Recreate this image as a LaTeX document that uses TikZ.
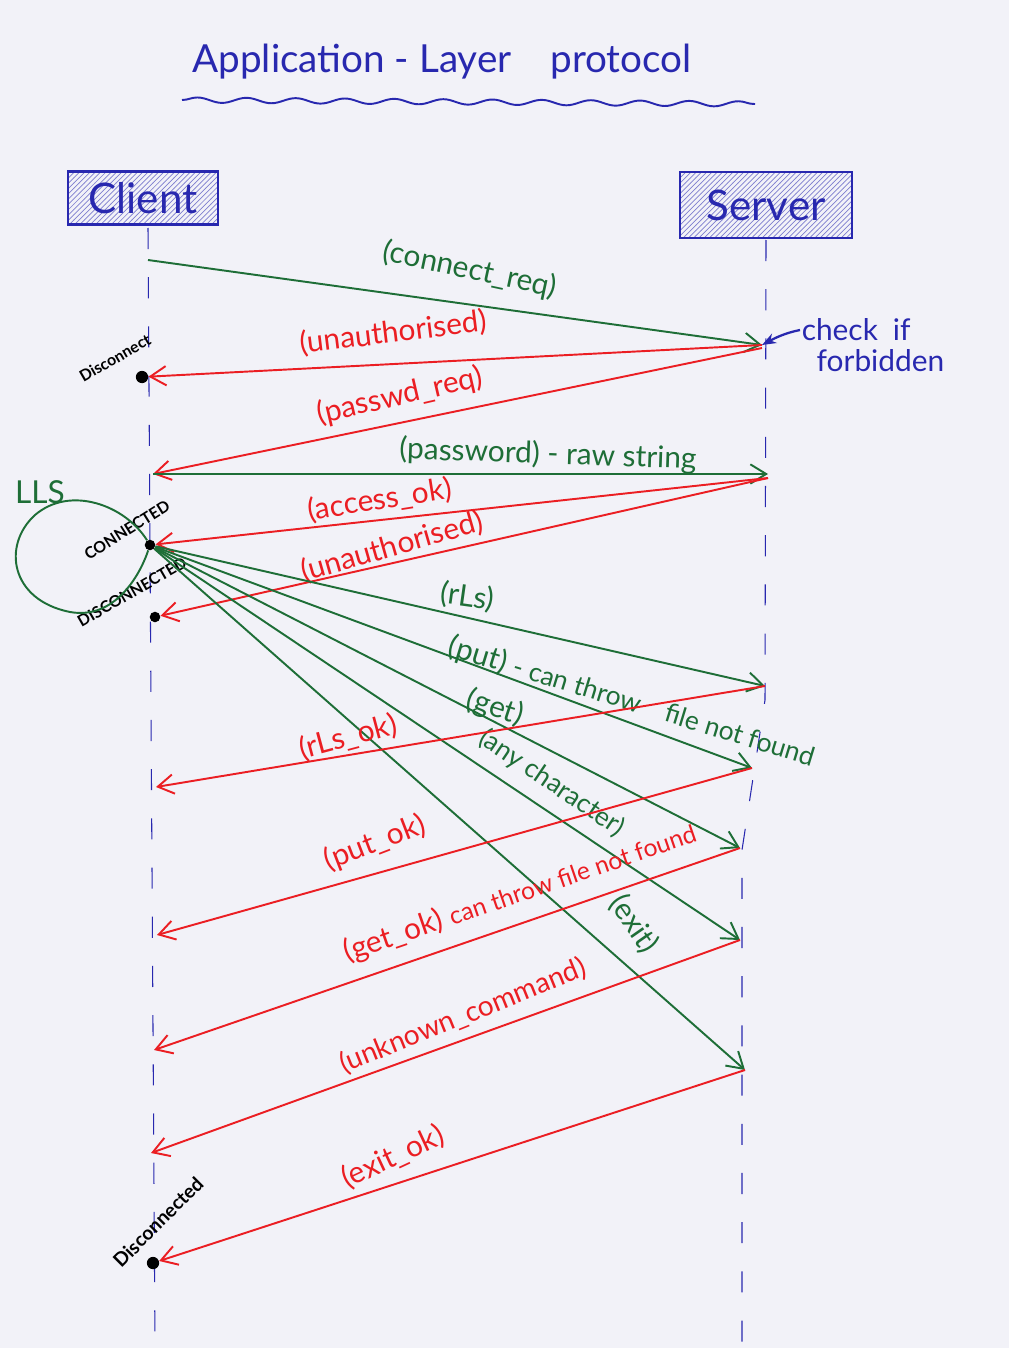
\documentclass[tikz,border=0pt]{standalone}
\usepackage{fontspec}
\setmainfont{Lato}
\usetikzlibrary{arrows.meta,patterns,decorations.pathmorphing}
\definecolor{pen}{RGB}{40,40,175}
\definecolor{grn}{RGB}{30,110,55}
\definecolor{rd}{RGB}{235,30,35}
\definecolor{paper}{RGB}{242,242,248}
\begin{document}
\begin{tikzpicture}[x=0.02cm,y=-0.02cm,
  msg/.style={line width=1.1pt,-{Straight Barb[length=9pt,width=11pt]}},
  gmsg/.style={msg,grn},
  rmsg/.style={msg,rd},
  glbl/.style={text=grn,font=\fontsize{17}{19}\selectfont,inner sep=1pt},
  rlbl/.style={text=rd,font=\fontsize{17}{19}\selectfont,inner sep=1pt},
  state/.style={font=\fontsize{9}{10}\selectfont\bfseries,inner sep=1pt},
  dot/.style={circle,fill=black,inner sep=0pt,minimum size=7pt},
  lifeline/.style={pen,line width=0.6pt,dash pattern=on 12pt off 16pt},
  actor/.style={draw=pen,line width=1.2pt,pattern=north east lines,pattern color=pen!60,inner sep=0pt}]
\fill[paper] (0,0) rectangle (1009,1348);
\useasboundingbox (0,0) rectangle (1009,1348);
% title
\node[text=pen,font=\fontsize{22}{24}\selectfont] (title) at (442,62) {Application - Layer\quad protocol};
\draw[pen,line width=1.1pt,decorate,decoration={snake,amplitude=1.5pt,segment length=28pt}] (182,100) -- (755,104);
% actors
\node[actor,minimum width=3cm,minimum height=1.06cm] (client) at (143,198) {};
\node[text=pen,font=\fontsize{24}{26}\selectfont] (clientt) at (client) {Client};
\node[actor,minimum width=3.44cm,minimum height=1.32cm] (server) at (766,205) {};
\node[text=pen,font=\fontsize{24}{26}\selectfont] (servert) at (server) {Server};
% lifelines
\coordinate (ctop) at (148,228);
\coordinate (cbot) at (155,1348);
\coordinate (stop) at (766,240);
\coordinate (smid) at (765,700);
\coordinate (smid2) at (742,850);
\coordinate (sbot) at (742,1348);
\draw[lifeline] (ctop) -- (cbot);
\draw[lifeline] (stop) -- (smid) -- (smid2) -- (sbot);
% points
\coordinate (c260) at (148,260);
\node[dot] (dis1) at (142,377) {};
\coordinate (c474) at (153,474);
\node[dot,minimum size=6pt] (conn) at (150,545) {};
\node[dot,minimum size=6pt] (dis2) at (155,617) {};
\coordinate (c787) at (156,787);
\coordinate (c935) at (157,935);
\coordinate (c1050) at (154,1050);
\coordinate (c1153) at (151,1153);
\node[dot] (dis3) at (153,1263) {};
\coordinate (s345) at (762,345);
\coordinate (s348) at (762,348);
\coordinate (s474) at (768,474);
\coordinate (s478) at (768,478);
\coordinate (s686) at (765,686);
\coordinate (s768) at (752,768);
\coordinate (s848) at (740,848);
\coordinate (s940) at (740,940);
\coordinate (s1070) at (745,1070);
% state labels
\node[state,rotate=30] (l1) at (115,358) {Disconnect};
\node[state,rotate=32] (l2) at (127,530) {CONNECTED};
\node[state,rotate=30] (l3) at (132,592) {DISCONNECTED};
\node[state,rotate=45,font=\fontsize{11}{12}\selectfont\bfseries] (l4) at (158,1222) {Disconnected};
% LLS loop
\draw[grn,line width=1.1pt] (conn) .. controls (125,505) and (70,485) .. (35,515) .. controls (2,545) and (10,600) .. (70,612) .. controls (115,620) and (140,575) .. (conn);
\node[text=grn,font=\fontsize{18}{20}\selectfont] (lls) at (40,492) {LLS};
% messages
\draw[gmsg] (c260) -- (s345);
\node[glbl,rotate=-12] at (470,270) {(connect\_req)};
\draw[rmsg] (s345) -- (dis1);
\node[rlbl,rotate=7] at (393,333) {(unauthorised)};
\draw[rmsg] (s348) -- (c474);
\node[rlbl,rotate=13] at (400,396) {(passwd\_req)};
\draw[gmsg] (c474) -- (s474);
\node[glbl,rotate=-2] at (548,455) {(password) - raw string};
\draw[rmsg] (s478) -- (conn);
\node[rlbl,rotate=9] at (380,500) {(access\_ok)};
\draw[rmsg] (s478) -- (dis2);
\node[rlbl,rotate=16] at (392,547) {(unauthorised)};
\draw[gmsg] (conn) -- (s686);
\node[glbl,rotate=-8] at (467,597) {(rLs)};
\draw[gmsg] (conn) -- (s768);
\node[glbl,rotate=-17] at (632,702) {(put) {\fontsize{15}{17}\selectfont - can throw\quad file not found}};
\draw[gmsg] (conn) -- (s848);
\node[glbl,rotate=-18] at (495,708) {(get)};
\draw[gmsg] (conn) -- (s940);
\node[glbl,rotate=-34,font=\fontsize{15}{17}\selectfont] at (552,783) {(any character)};
\draw[gmsg] (conn) -- (s1070);
\node[glbl,rotate=-55] at (634,924) {(exit)};
\draw[rmsg] (s686) -- (c787);
\node[rlbl,rotate=15] at (348,737) {(rLs\_ok)};
\draw[rmsg] (s768) -- (c935);
\node[rlbl,rotate=21] at (375,843) {(put\_ok)};
\draw[rmsg] (s848) -- (c1050);
\node[rlbl,rotate=19] at (520,893) {(get\_ok) {\fontsize{14}{16}\selectfont can throw file not found}};
\draw[rmsg] (s940) -- (c1153);
\node[rlbl,rotate=22,font=\fontsize{16}{18}\selectfont] at (463,1016) {(unknown\_command)};
\draw[rmsg] (s1070) -- (dis3);
\node[rlbl,rotate=25] at (393,1157) {(exit\_ok)};
% check if forbidden
\coordinate (chk) at (800,330);
\draw[pen,line width=1.3pt,-{Stealth[length=8pt]}] (chk) .. controls (785,333) and (775,338) .. (s345);
\node[text=pen,align=left,font=\fontsize{17}{20}\selectfont] (note) at (873,345) {check\enspace if\\[-2pt]\enspace forbidden};
\end{tikzpicture}
\end{document}
